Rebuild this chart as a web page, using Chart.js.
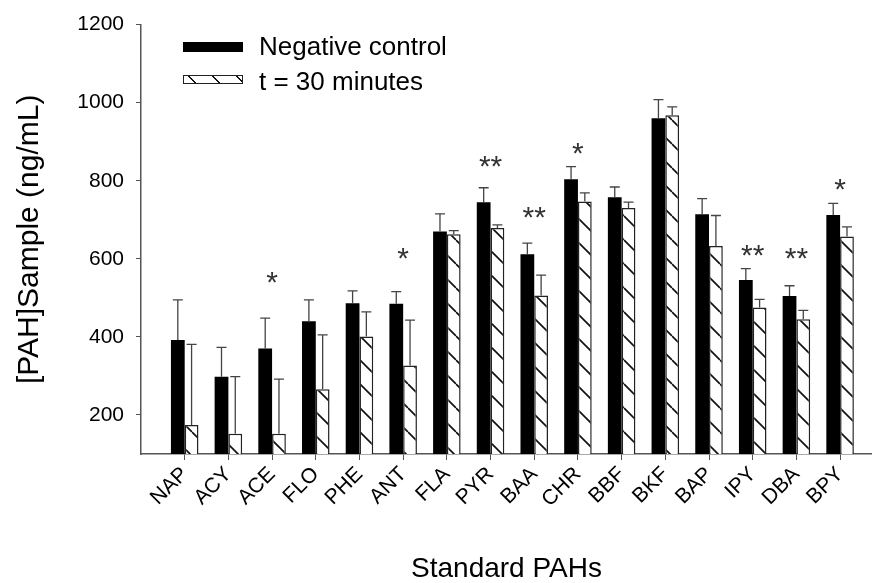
<!DOCTYPE html>
<html>
<head>
<meta charset="utf-8">
<script src="https://cdn.jsdelivr.net/npm/chart.js@4.4.1/dist/chart.umd.min.js"></script>
<style>
  html, body { margin: 0; padding: 0; background: #fff; }
  #wrap { position: relative; width: 872px; height: 583px; overflow: hidden; }
  .txt { position: absolute; left: 259px; font: 26px "Liberation Sans", Arial, sans-serif; line-height: 30px; color: #000; white-space: nowrap; }
  .sw { position: absolute; left: 183px; width: 60px; box-sizing: border-box; }
  .solid { top: 42px; height: 10px; background: #000; }
  .hatch { top: 75px; height: 9px; border: 1.5px solid #222;
    background: repeating-linear-gradient(45deg, #fff 0 7.5px, #111 7.5px 9px, #fff 9px 17px); }
</style>
</head>
<body>
<div id="wrap">
  <canvas id="chart" width="872" height="583"></canvas>
  <div class="sw solid"></div>
  <div class="txt" style="top:31px">Negative control</div>
  <div class="sw hatch"></div>
  <div class="txt" style="top:66px">t = 30 minutes</div>
</div>
<script>
const labels = ['NAP', 'ACY', 'ACE', 'FLO', 'PHE', 'ANT', 'FLA', 'PYR', 'BAA', 'CHR', 'BBF', 'BKF', 'BAP', 'IPY', 'DBA', 'BPY'];
const control = [392, 298, 370, 440, 486, 485, 670, 745, 612, 804, 758, 960, 714, 546, 505, 712];
const controlErr = [103, 75, 78, 55, 32, 31, 45, 37, 28, 32, 26, 48, 40, 29, 26, 30];
const t30 = [174, 152, 152, 266, 401, 327, 663, 679, 506, 747, 730, 968, 633, 475, 445, 657];
const t30Err = [207, 146, 140, 139, 63, 116, 9, 8, 52, 22, 15, 21, 78, 21, 23, 25];
const sigMarks = ['', '', '*', '', '', '*', '', '**', '**', '*', '', '', '', '**', '**', '*'];
const sigLevel = [0, 0, 559, 0, 0, 619, 0, 855, 725, 888, 0, 0, 0, 627, 619, 797];
const yTicks = [200, 400, 600, 800, 1000, 1200];

const FONT = '"Liberation Sans", Arial, sans-serif';

// diagonal hatch for the t = 30 bars
const tile = document.createElement('canvas');
tile.width = 24; tile.height = 24;
const tc = tile.getContext('2d');
tc.fillStyle = '#fff';
tc.fillRect(0, 0, 24, 24);
tc.strokeStyle = '#111';
tc.lineWidth = 1.7;
[[0, 0, 24, 24], [-24, 0, 0, 24], [0, -24, 24, 0]].forEach(([a, b, c, d]) => {
    tc.beginPath(); tc.moveTo(a, b); tc.lineTo(c, d); tc.stroke();
});
const hatch = document.getElementById('chart').getContext('2d').createPattern(tile, 'repeat');

const errs = [controlErr, t30Err];

const errorBars = {
    id: 'errorBars',
    afterDatasetsDraw(chart) {
        const { ctx, scales: { y } } = chart;
        ctx.save();
        ctx.strokeStyle = '#444';
        ctx.lineWidth = 1.3;
        chart.data.datasets.forEach((ds, di) => {
            chart.getDatasetMeta(di).data.forEach((bar, i) => {
                const top = y.getPixelForValue(ds.data[i].y + errs[di][i]);
                ctx.beginPath();
                ctx.moveTo(bar.x, bar.y); ctx.lineTo(bar.x, top);
                ctx.moveTo(bar.x - 5, top); ctx.lineTo(bar.x + 5, top);
                ctx.stroke();
            });
        });
        ctx.restore();
    }
};

const stars = {
    id: 'stars',
    afterDatasetsDraw(chart) {
        const { ctx, scales: { x, y } } = chart;
        ctx.save();
        ctx.fillStyle = '#333';
        ctx.font = '30px ' + FONT;
        ctx.textAlign = 'center';
        ctx.textBaseline = 'alphabetic';
        sigMarks.forEach((m, i) => {
            if (!m) return;
            ctx.fillText(m, x.getPixelForValue(i + 1), y.getPixelForValue(sigLevel[i]) + 17);
        });
        ctx.restore();
    }
};

new Chart(document.getElementById('chart'), {
    type: 'bar',
    data: {
        datasets: [
            { label: 'Negative control', data: control.map((v, i) => ({ x: i + 1, y: v })), backgroundColor: '#000', borderWidth: 0, base: 100 },
            { label: 't = 30 minutes', data: t30.map((v, i) => ({ x: i + 1, y: v })), backgroundColor: hatch, borderColor: '#222', borderWidth: 1.5, base: 100 }
        ]
    },
    options: {
        responsive: false,
        animation: false,
        devicePixelRatio: 1,
        layout: { padding: { top: 24, right: 0, bottom: 0, left: 0 } },
        categoryPercentage: 0.63,
        barPercentage: 1,
        plugins: { legend: { display: false }, tooltip: { enabled: false } },
        scales: {
            x: {
                type: 'linear', min: 0, max: 16.73, offset: false,
                afterBuildTicks: s => { s.ticks = labels.map((_, i) => ({ value: i + 1 })); },
                afterFit: s => { s.height = 129; s.paddingLeft = 0; s.paddingRight = 0; },
                grid: { display: true, offset: false, drawOnChartArea: false, tickLength: 6, color: '#555' },
                border: { color: '#555', width: 1.5 },
                ticks: { minRotation: 45, maxRotation: 45, autoSkip: false, padding: 2, color: '#000',
                    font: { family: FONT, size: 21 }, callback: v => labels[v - 1] || '' },
                title: { display: true, text: 'Standard PAHs', color: '#000', font: { family: FONT, size: 28, lineHeight: 1 }, padding: 0 }
            },
            y: {
                min: 100, max: 1200,
                afterBuildTicks: s => { s.ticks = yTicks.map(v => ({ value: v })); },
                afterFit: s => { s.width = 141; },
                grid: { display: true, drawOnChartArea: false, tickLength: 5, color: '#555' },
                border: { color: '#555', width: 1.5 },
                ticks: { padding: 12, color: '#000', font: { family: FONT, size: 21 }, callback: v => String(v) },
                title: { display: true, text: '[PAH]Sample (ng/mL)', color: '#000', font: { family: FONT, size: 30, lineHeight: 1 }, padding: { top: 15, bottom: 0 } }
            }
        }
    },
    plugins: [errorBars, stars]
});
</script>
</body>
</html>
